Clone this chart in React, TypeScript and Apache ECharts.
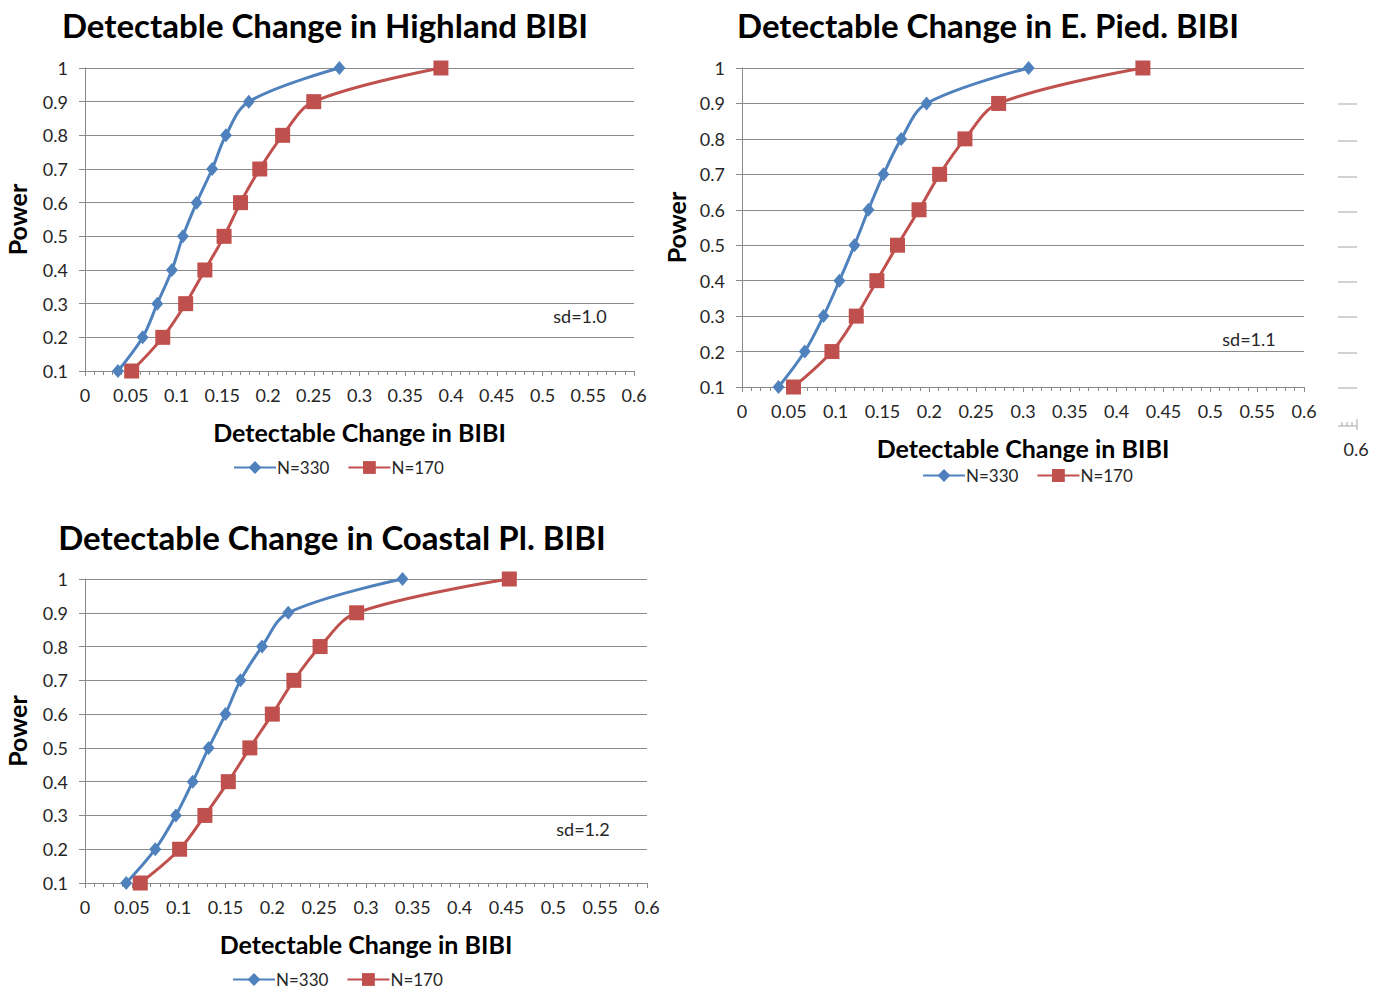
import React, { useEffect, useRef } from "react";
import * as echarts from "echarts";

// Power levels shared by every curve (y values)
const powerLevels = [0.1, 0.2, 0.3, 0.4, 0.5, 0.6, 0.7, 0.8, 0.9, 1.0];

// Detectable change in BIBI reached at each power level
const highlandN330 = [0.036, 0.063, 0.079, 0.095, 0.107, 0.122, 0.139, 0.154, 0.179, 0.278];
const highlandN170 = [0.051, 0.085, 0.110, 0.131, 0.152, 0.170, 0.191, 0.216, 0.250, 0.389];

const piedN330 = [0.039, 0.067, 0.087, 0.104, 0.120, 0.135, 0.151, 0.170, 0.197, 0.306];
const piedN170 = [0.055, 0.096, 0.122, 0.144, 0.166, 0.189, 0.211, 0.238, 0.274, 0.428];

const coastalN330 = [0.044, 0.075, 0.097, 0.115, 0.132, 0.150, 0.166, 0.189, 0.217, 0.339];
const coastalN170 = [0.059, 0.101, 0.128, 0.153, 0.176, 0.200, 0.223, 0.251, 0.290, 0.453];

const seriesNames = ["N=330", "N=170"];
const panelTitles = [
  "Detectable Change in Highland BIBI",
  "Detectable Change in E. Pied. BIBI",
  "Detectable Change in Coastal Pl. BIBI",
];
const sdLabels = ["sd=1.0", "sd=1.1", "sd=1.2"];
const xAxisTitle = "Detectable Change in BIBI";
const yAxisTitle = "Power";
const strayTickLabel = "0.6";

const FONT = "Lato, 'Open Sans', 'Liberation Sans', sans-serif";
const BLUE = "#4F81BD";
const RED = "#C0504D";
const GRID_GRAY = "#8A8A8A";
const TEXT = "#262626";

type Panel = {
  left: number;
  top: number;
  width: number;
  height: number;
  titleX: number;
  titleY: number;
  legendLeft: number;
  legendTop: number;
  sdX: number;
  sdY: number;
  yNameGap: number;
  n330: number[];
  n170: number[];
};

const panels: Panel[] = [
  {
    left: 85, top: 68, width: 549, height: 303,
    titleX: 320, titleY: 3, legendLeft: 228, legendTop: 454,
    sdX: 580, sdY: 316, yNameGap: 56,
    n330: highlandN330, n170: highlandN170,
  },
  {
    left: 742, top: 68, width: 562, height: 319,
    titleX: 983, titleY: 3, legendLeft: 917, legendTop: 462,
    sdX: 1249, sdY: 339, yNameGap: 54,
    n330: piedN330, n170: piedN170,
  },
  {
    left: 85, top: 579, width: 562, height: 304,
    titleX: 327, titleY: 515, legendLeft: 227, legendTop: 966,
    sdX: 583, sdY: 829, yNameGap: 56,
    n330: coastalN330, n170: coastalN170,
  },
];

function pairUp(xs: number[]) {
  return xs.map((x, i) => [x, powerLevels[i]]);
}

function trimNum(v: number) {
  return String(parseFloat(v.toFixed(2)));
}

export default function App() {
  const ref = useRef<HTMLDivElement>(null);

  useEffect(() => {
    if (!ref.current) return;
    const chart = echarts.init(ref.current, undefined, { renderer: "svg" });

    const grids: any[] = [];
    const xAxes: any[] = [];
    const yAxes: any[] = [];
    const series: any[] = [];
    const titles: any[] = [];
    const legends: any[] = [];
    const graphics: any[] = [];

    panels.forEach((p, i) => {
      grids.push({ left: p.left, top: p.top, width: p.width, height: p.height, containLabel: false });

      titles.push({
        text: panelTitles[i],
        left: p.titleX,
        top: p.titleY,
        textAlign: "center",
        textStyle: { fontFamily: FONT, fontWeight: "bold", fontSize: 33, color: "#000" },
      });

      xAxes.push({
        type: "value",
        gridIndex: i,
        min: 0,
        max: 0.6,
        interval: 0.05,
        name: xAxisTitle,
        nameLocation: "middle",
        nameGap: 48,
        nameTextStyle: { fontFamily: FONT, fontWeight: "bold", fontSize: 25, color: "#000" },
        axisLine: { show: true, lineStyle: { color: GRID_GRAY, width: 1 } },
        axisTick: { show: true, length: 5, lineStyle: { color: GRID_GRAY } },
        minorTick: { show: true, splitNumber: 5, length: 4, lineStyle: { color: GRID_GRAY } },
        axisLabel: {
          fontFamily: FONT, fontSize: 18, color: TEXT, margin: 15,
          formatter: (v: number) => trimNum(v),
        },
        splitLine: { show: false },
      });

      yAxes.push({
        type: "value",
        gridIndex: i,
        min: 0.1,
        max: 1,
        interval: 0.1,
        name: yAxisTitle,
        nameLocation: "middle",
        nameRotate: 90,
        nameGap: p.yNameGap,
        nameTextStyle: { fontFamily: FONT, fontWeight: "bold", fontSize: 25, color: "#000" },
        axisLine: { show: true, lineStyle: { color: GRID_GRAY, width: 1 } },
        axisTick: { show: true, length: 6, lineStyle: { color: GRID_GRAY } },
        axisLabel: {
          fontFamily: FONT, fontSize: 18, color: TEXT, margin: 17,
          formatter: (v: number) => trimNum(v),
        },
        splitLine: { show: true, lineStyle: { color: GRID_GRAY, width: 1 } },
      });

      series.push({
        name: seriesNames[0],
        type: "line",
        xAxisIndex: i,
        yAxisIndex: i,
        data: pairUp(p.n330),
        smooth: 0.35,
        symbol: "diamond",
        symbolSize: [12, 14],
        lineStyle: { color: BLUE, width: 3 },
        itemStyle: { color: BLUE },
        clip: false,
        z: 3,
      });
      series.push({
        name: seriesNames[1],
        type: "line",
        xAxisIndex: i,
        yAxisIndex: i,
        data: pairUp(p.n170),
        smooth: 0.35,
        symbol: "rect",
        symbolSize: 15,
        lineStyle: { color: RED, width: 3 },
        itemStyle: { color: RED },
        clip: false,
        z: 2,
      });

      legends.push({
        left: p.legendLeft,
        top: p.legendTop,
        orient: "horizontal",
        itemWidth: 42,
        itemHeight: 16,
        itemGap: 18,
        selectedMode: false,
        data: seriesNames,
        textStyle: { fontFamily: FONT, fontSize: 17, color: TEXT, padding: [0, 0, 0, -4] },
      });

      graphics.push({
        type: "text",
        x: p.sdX,
        y: p.sdY,
        style: {
          text: sdLabels[i],
          fontFamily: FONT,
          fontSize: 18,
          fill: TEXT,
          align: "center",
          verticalAlign: "middle",
        },
      });
    });

    // Clipped edge of a neighbouring chart on the far right
    const strayLines = [104, 141, 177, 212, 247, 282, 317, 353, 388];
    strayLines.forEach((y) => {
      graphics.push({
        type: "line",
        shape: { x1: 1338, y1: y, x2: 1357, y2: y },
        style: { stroke: "#A6A6A6", lineWidth: 1 },
      });
    });
    graphics.push({
      type: "line",
      shape: { x1: 1338, y1: 426, x2: 1357, y2: 426 },
      style: { stroke: "#A6A6A6", lineWidth: 1 },
    });
    [1342, 1347, 1352].forEach((x) => {
      graphics.push({
        type: "line",
        shape: { x1: x, y1: 422, x2: x, y2: 426 },
        style: { stroke: "#A6A6A6", lineWidth: 1 },
      });
    });
    graphics.push({
      type: "line",
      shape: { x1: 1357, y1: 419, x2: 1357, y2: 430 },
      style: { stroke: "#A6A6A6", lineWidth: 1 },
    });
    graphics.push({
      type: "text",
      x: 1356,
      y: 449,
      style: {
        text: strayTickLabel,
        fontFamily: FONT,
        fontSize: 18,
        fill: TEXT,
        align: "center",
        verticalAlign: "middle",
      },
    });

    chart.setOption({
      animation: false,
      backgroundColor: "#ffffff",
      title: titles,
      legend: legends,
      grid: grids,
      xAxis: xAxes,
      yAxis: yAxes,
      series,
      graphic: graphics,
    });

    return () => {
      chart.dispose();
    };
  }, []);

  return (
    <div
      ref={ref}
      style={{ position: "absolute", left: 0, top: 0, width: 1388, height: 991, background: "#fff" }}
    />
  );
}
